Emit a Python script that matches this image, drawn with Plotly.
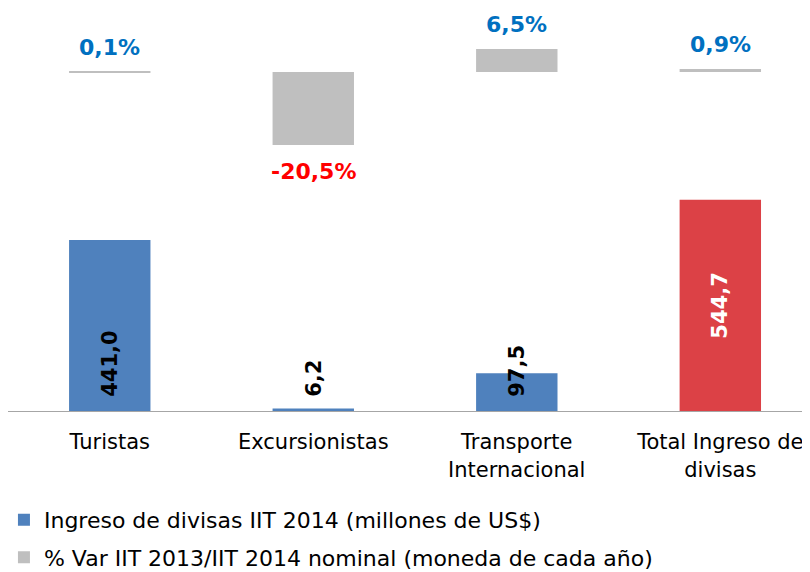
import plotly.graph_objects as go

categories = ["Turistas", "Excursionistas", "Transporte<br>Internacional", "Total Ingreso de<br>divisas"]
ingreso = [441.0, 6.2, 97.5, 544.7]
var_pct = [0.1, -20.5, 6.5, 0.9]
ingreso_colors = ["#4F81BD", "#4F81BD", "#4F81BD", "#DC4146"]
name_ingreso = "Ingreso de divisas IIT 2014 (millones de US$)"
name_var = "% Var IIT 2013/IIT 2014 nominal (moneda de cada año)"

def fmt(v):
    return f"{v:.1f}".replace(".", ",")

FONT = "DejaVu Sans"

fig = go.Figure()
fig.add_trace(go.Bar(
    x=categories, y=ingreso, name=name_ingreso,
    marker=dict(color=ingreso_colors, line=dict(width=0)),
    yaxis="y", legendgroup="a",
))
fig.add_trace(go.Bar(
    x=categories, y=var_pct, name=name_var,
    marker=dict(color="#BFBFBF", line=dict(width=0)),
    yaxis="y2", legendgroup="b",
))

annotations = []
for i, (c, v) in enumerate(zip(categories, ingreso)):
    if i == len(categories) - 1:
        annotations.append(dict(x=c, y=v / 2, xref="x", yref="y", text=fmt(v),
                                textangle=-90, showarrow=False, yanchor="middle",
                                font=dict(family=FONT, size=21, color="white", weight="bold")))
    else:
        annotations.append(dict(x=c, y=0, xref="x", yref="y", text=fmt(v),
                                textangle=-90, showarrow=False, yanchor="bottom", yshift=12,
                                font=dict(family=FONT, size=21, color="black", weight="bold")))
for c, v in zip(categories, var_pct):
    neg = v < 0
    annotations.append(dict(x=c, y=v, xref="x", yref="y2", text=fmt(v) + "%",
                            showarrow=False,
                            yanchor="top" if neg else "bottom",
                            yshift=-12 if neg else 10,
                            font=dict(family=FONT, size=22, color="#FF0000" if neg else "#0070C0", weight="bold")))

fig.update_layout(
    width=810, height=572,
    margin=dict(l=0, r=0, t=0, b=169, autoexpand=False),
    paper_bgcolor="white", plot_bgcolor="white",
    barmode="overlay", bargap=0.6,
    showlegend=True,
    legend=dict(x=-0.005, xanchor="left", y=-0.218, yanchor="top",
                orientation="v", tracegroupgap=6,
                font=dict(family=FONT, size=22, color="black")),
    xaxis=dict(range=[-0.5, 3.48], showline=True, linecolor="#A6A6A6", linewidth=1,
               automargin=False,
               ticks="outside", ticklen=12, tickcolor="rgba(0,0,0,0)",
               tickfont=dict(family=FONT, size=21, color="black"), showgrid=False),
    yaxis=dict(range=[0, 1038.7], visible=False, showgrid=False, zeroline=False, automargin=False),
    yaxis2=dict(range=[-95.2, 18.0], overlaying="y", visible=False, showgrid=False, zeroline=False, automargin=False),
    annotations=annotations,
    font=dict(family=FONT),
)

fig.write_html("out.html")
